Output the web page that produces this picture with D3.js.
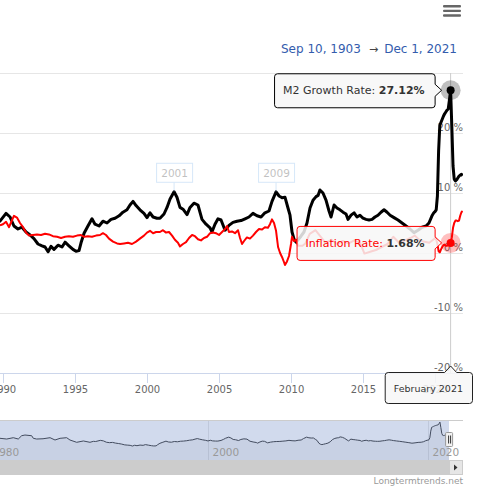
<!DOCTYPE html>
<html><head><meta charset="utf-8">
<script src="https://cdn.jsdelivr.net/npm/d3@7"></script>
<style>
html,body{margin:0;padding:0;background:#fff;overflow:hidden}
svg{display:block;font-family:"DejaVu Sans",sans-serif}
</style>
</head><body>
<svg id="c" width="482" height="492"></svg>
<script>
// ---------- DATA ----------
const m2Years = [1979.0,1979.5,1980.0,1980.5,1981.09,1981.7,1982.3,1982.75,1983.06,1983.36,1983.97,1984.12,1984.42,1985.0,1985.64,1986.09,1986.55,1987.15,1987.45,1988.06,1988.67,1989.27,1989.58,
1989.79,1990.21,1990.49,1990.76,1991.04,1991.32,1991.60,1991.88,1992.15,1992.43,1992.71,1992.92,1993.13,1993.33,1993.54,1993.82,1994.10,1994.31,1994.58,1994.86,1995.07,1995.28,1995.42,1995.63,1995.90,
1996.18,1996.39,1996.67,1996.94,1997.22,1997.50,1997.78,1998.06,1998.33,1998.61,1998.82,1999.03,1999.24,1999.51,1999.79,2000.00,2000.21,2000.42,2000.69,2000.90,2001.18,2001.39,2001.60,2001.88,
2002.08,2002.29,2002.50,2002.78,2002.99,2003.26,2003.54,2003.82,2004.10,2004.38,2004.51,2004.72,2004.93,2005.14,2005.42,2005.69,2005.97,2006.25,2006.53,2006.81,2007.08,2007.36,2007.64,2007.92,
2008.19,2008.47,2008.68,2008.96,2009.17,2009.38,2009.58,2009.79,2009.93,2010.07,2010.21,2010.35,2010.49,2010.69,2010.90,2011.11,2011.32,2011.53,2011.74,2011.88,2012.01,2012.22,2012.43,2012.64,2012.78,
2012.99,2013.19,2013.40,2013.61,2013.82,2013.96,2014.17,2014.38,2014.58,2014.79,2015.00,2015.21,2015.42,2015.63,2015.83,2016.04,2016.25,2016.46,2016.67,2016.88,2017.15,2017.43,2017.71,2017.99,
2018.26,2018.54,2018.82,2019.10,2019.38,2019.58,2019.79,2019.917,
2020.0,2020.083,2020.167,2020.25,2020.333,2020.417,2020.5,2020.583,2020.667,2020.75,2020.833,2020.917,
2021.0,2021.083,2021.167,2021.25,2021.333,2021.417,2021.5,2021.583,2021.667,2021.75,2021.833,2021.917];
const m2Growth = [8.2,8.0,8.5,8.9,8.9,8.1,9.6,8.1,11.8,12.6,11.8,8.9,8.1,8.4,9.6,7.0,8.9,9.6,7.0,4.4,5.9,4.4,5.5,
5.3,6.6,6.0,4.5,4.0,4.3,3.5,3.0,2.4,1.5,1.2,1.0,0.2,1.1,0.6,1.3,1.0,1.8,1.2,0.6,0.3,0.4,1.7,3.3,4.5,
5.7,4.8,4.5,5.3,5.0,5.6,5.8,6.2,6.8,7.2,8.0,8.6,7.9,7.2,6.6,5.9,6.7,6.0,5.8,5.8,6.5,7.6,9.0,10.2,
9.3,7.6,7.3,6.4,7.6,8.3,8.0,5.6,4.8,4.2,3.5,4.8,5.7,5.5,3.8,4.6,5.1,5.3,5.4,5.7,6.0,6.6,6.2,6.0,
6.7,7.0,8.6,10.2,9.5,9.2,9.3,7.5,6.3,3.5,2.3,1.8,2.2,2.8,3.5,5.0,7.5,8.8,9.4,9.6,10.5,10.0,8.8,7.0,6.0,
8.0,7.5,7.2,6.8,6.5,5.6,6.3,6.7,6.0,6.3,5.8,5.6,5.5,5.6,6.0,6.3,6.8,7.2,6.8,6.3,5.9,5.5,5.0,4.5,
4.0,3.4,3.8,4.3,4.5,5.0,6.2,6.7,
6.9,7.2,9.5,17.0,21.3,21.8,22.3,22.8,23.2,23.5,23.8,24.0,
25.5,27.12,21.0,14.5,12.3,12.0,12.2,12.5,12.8,13.0,13.1,12.9];

const inflYears = [1989.79,1990.00,1990.21,1990.42,1990.63,1990.76,1990.97,1991.18,1991.39,1991.60,1991.81,1992.08,1992.36,1992.64,1992.92,1993.19,1993.47,1993.75,1994.03,1994.31,1994.58,1994.86,
1995.14,1995.42,1995.63,1995.90,1996.18,1996.46,1996.74,1996.94,1997.15,1997.36,1997.64,1997.92,1998.13,1998.40,1998.68,1998.96,1999.24,1999.51,1999.79,2000.00,2000.21,2000.42,2000.63,2000.90,
2001.11,2001.32,2001.53,2001.74,2001.94,2002.15,2002.29,2002.50,2002.71,2002.92,2003.13,2003.33,2003.54,2003.75,2003.96,2004.17,2004.38,2004.58,2004.79,2005.00,2005.21,2005.42,2005.56,2005.69,2005.90,
2006.11,2006.32,2006.46,2006.60,2006.74,2006.94,2007.15,2007.36,2007.57,2007.78,2007.99,2008.19,2008.40,2008.54,2008.68,2008.82,2008.96,2009.10,2009.24,2009.38,2009.51,2009.58,2009.72,2009.86,
2010.00,2010.07,2010.21,2010.35,2010.49,2010.80,2011.00,2011.30,2011.70,2012.00,2012.40,2012.80,2013.20,2013.60,2014.00,2014.40,2014.80,2015.10,2015.50,2015.90,2016.30,2016.70,2017.10,2017.50,2017.90,
2018.30,2018.60,2018.90,2019.20,2019.60,2019.917,
2020.0,2020.083,2020.167,2020.25,2020.333,2020.417,2020.5,2020.583,2020.667,2020.75,2020.833,2020.917,
2021.0,2021.083,2021.167,2021.25,2021.333,2021.417,2021.5,2021.583,2021.667,2021.75,2021.833,2021.917];
const inflRate = [4.6,4.8,5.2,4.3,5.5,6.2,5.9,5.0,4.3,3.4,2.9,3.0,3.1,3.0,3.2,3.1,2.8,2.7,2.5,2.7,2.8,2.7,
2.9,3.0,2.7,2.8,2.7,2.9,3.0,3.3,3.0,2.4,1.9,1.6,1.5,1.6,1.7,1.5,1.9,2.4,2.9,3.4,3.7,3.3,3.5,3.5,
3.8,3.4,3.5,2.9,2.2,1.7,1.1,1.5,1.8,2.5,3.0,2.8,2.3,2.1,2.5,2.7,3.3,3.4,3.3,3.0,3.5,4.0,4.5,3.5,3.6,
3.3,3.8,2.5,1.5,2.0,2.6,2.4,2.9,3.5,4.0,3.9,4.3,4.2,4.8,5.6,5.0,3.7,1.0,0.0,-0.7,-1.5,-2.0,-1.4,-0.5,
1.5,2.7,2.0,2.2,1.2,1.2,1.6,3.2,3.8,2.9,1.7,2.2,1.5,2.0,1.6,2.1,1.7,-0.1,0.2,0.5,1.0,1.5,2.7,1.7,2.1,
2.5,2.9,2.2,1.9,1.7,2.3,
2.5,2.3,1.5,0.3,0.1,0.6,1.0,1.3,1.4,1.2,1.2,1.4,
1.4,1.68,2.6,4.2,5.0,5.4,5.4,5.3,5.4,6.2,6.8,7.0];

const xTickYears = [1990,1995,2000,2005,2010,2015,2020];
const yTicks = [-20,-10,0,10,20,30];
const yLabelTicks = [-20,-10,0,10,20];
const navTickYears = [1980,2000,2020];
const flagYears = [2001.88, 2008.96];
const flagTitles = ["2001","2009"];
const hoverYear = 2021.083;
const hoverLabel = "February 2021";
const seriesNames = ["M2 Growth Rate","Inflation Rate"];
const rangeStart = "Sep 10, 1903", rangeEnd = "Dec 1, 2021";
const creditText = "Longtermtrends.net";

// ---------- HELPERS ----------
const toDate = yv => { const yr=Math.floor(yv), s=Date.UTC(yr,0,1), e=Date.UTC(yr+1,0,1); return new Date(s+(yv-yr)*(e-s)); };
const m2 = m2Years.map((t,i)=>({date:toDate(t),v:m2Growth[i]}));
const infl = inflYears.map((t,i)=>({date:toDate(t),v:inflRate[i]}));

const svg = d3.select('#c');
const plotTop=73, plotBottom=373, plotRight=463;
const x = d3.scaleUtc().domain([toDate(1990),toDate(2020)]).range([3,435]);
const y = d3.scaleLinear().domain([-20,30]).range([plotBottom,plotTop]);

const defs = svg.append('defs');
defs.append('clipPath').attr('id','pc').append('rect').attr('x',0).attr('y',plotTop-20).attr('width',plotRight).attr('height',plotBottom-plotTop+20);
defs.append('clipPath').attr('id','nc').append('rect').attr('x',0).attr('y',420).attr('width',449).attr('height',40);

// gridlines
svg.append('g').selectAll('line').data(yTicks).join('line')
  .attr('x1',0).attr('x2',plotRight).attr('y1',d=>Math.round(y(d))+0.5).attr('y2',d=>Math.round(y(d))+0.5)
  .attr('stroke','#e6e6e6').attr('stroke-width',1);

// x axis
const xa = svg.append('g').attr('transform',`translate(0,${plotBottom})`)
  .call(d3.axisBottom(x).tickValues(xTickYears.map(toDate)).tickSize(10).tickSizeOuter(0).tickFormat(d3.utcFormat('%Y')));
xa.select('.domain').remove();
xa.selectAll('.tick line').attr('stroke','#ccd6eb');
xa.selectAll('.tick text').attr('fill','#666').attr('font-size','10px').attr('font-family','DejaVu Sans');
svg.append('line').attr('x1',0).attr('x2',plotRight).attr('y1',plotBottom+0.5).attr('y2',plotBottom+0.5).attr('stroke','#ccd6eb');

// y labels
svg.append('g').selectAll('text').data(yLabelTicks).join('text')
  .attr('x',plotRight).attr('y',d=>y(d)-2.5).attr('text-anchor','end')
  .attr('fill','#666').attr('font-size','10px').text(d=>`${d} %`);

// crosshair
const hx = x(toDate(hoverYear));
svg.append('line').attr('x1',hx).attr('x2',hx).attr('y1',plotTop).attr('y2',plotBottom).attr('stroke','#cccccc');

// series
const line = d3.line().x(d=>x(d.date)).y(d=>y(d.v));
const gp = svg.append('g').attr('clip-path','url(#pc)');
gp.append('path').datum(m2).attr('d',line).attr('fill','none').attr('stroke','#000').attr('stroke-width',3).attr('stroke-linejoin','round');
gp.append('path').datum(infl).attr('d',line).attr('fill','none').attr('stroke','#ff0000').attr('stroke-width',2).attr('stroke-linejoin','round');

// flags (inactive, faded)
const interpM2 = t => { const d=toDate(t); const i=d3.bisector(p=>p.date).left(m2,d); if(i<=0) return m2[0].v; const a=m2[i-1], b=m2[i]||a; const f=(d-a.date)/((b.date-a.date)||1); return a.v+(b.v-a.v)*f; };
const fg = svg.append('g').attr('opacity',0.3);
flagYears.forEach((t,i)=>{
  const fx = x(toDate(t)), ay = y(interpM2(t));
  const bb = ay-10, bt = bb-19, w=36;
  fg.append('line').attr('x1',fx).attr('x2',fx).attr('y1',bb).attr('y2',ay).attr('stroke','#7cb5ec');
  fg.append('rect').attr('x',fx-w/2+0.5).attr('y',bt+0.5).attr('width',w).attr('height',19).attr('fill','#fff').attr('stroke','#7cb5ec');
  fg.append('text').attr('x',fx+0.5).attr('y',bt+14).attr('text-anchor','middle').attr('font-size','10.5px').attr('fill','#333').text(flagTitles[i]);
});

// hover markers
const hi = m2Years.indexOf(hoverYear), hj = inflYears.indexOf(hoverYear);
const m2y = y(m2Growth[hi]), iny = y(inflRate[hj]);
svg.append('circle').attr('cx',hx).attr('cy',m2y).attr('r',10).attr('fill','rgba(0,0,0,0.25)');
svg.append('circle').attr('cx',hx).attr('cy',m2y).attr('r',4).attr('fill','#000');
svg.append('circle').attr('cx',hx).attr('cy',iny).attr('r',10).attr('fill','rgba(255,0,0,0.25)');
svg.append('circle').attr('cx',hx).attr('cy',iny).attr('r',4).attr('fill','#ff0000');

// tooltips
function calloutRight(x0,y0,w,h,tx,ty,r){
  const x1=x0+w,y1=y0+h;
  return `M${x0+r},${y0}H${x1-r}Q${x1},${y0} ${x1},${y0+r}V${ty-6}L${tx},${ty}L${x1},${ty+6}V${y1-r}Q${x1},${y1} ${x1-r},${y1}H${x0+r}Q${x0},${y1} ${x0},${y1-r}V${y0+r}Q${x0},${y0} ${x0+r},${y0}Z`;
}
function calloutTop(x0,y0,w,h,tx,ty,r){
  const x1=x0+w,y1=y0+h;
  return `M${x0+r},${y0}H${tx-6}L${tx},${ty}L${tx+6},${y0}H${x1-r}Q${x1},${y0} ${x1},${y0+r}V${y1-r}Q${x1},${y1} ${x1-r},${y1}H${x0+r}Q${x0},${y1} ${x0},${y1-r}V${y0+r}Q${x0},${y0} ${x0+r},${y0}Z`;
}
function tooltip(py, name, val, color, nameColor){
  const g = svg.append('g');
  const path = g.append('path');
  const t = g.append('text').attr('font-size','11px').attr('fill','#333');
  t.append('tspan').attr('fill',nameColor).text(name+': ');
  t.append('tspan').attr('font-weight','bold').text(val.toFixed(2)+'%');
  const tl = t.node().getComputedTextLength();
  const right = hx-16, w = tl+19, left = right-w, h=34, top = py-17;
  t.attr('x',left+9).attr('y',py+4);
  path.attr('d',calloutRight(left+0.5,top+0.5,w,h,hx-9,py,3)).attr('fill','rgba(247,247,247,0.85)').attr('stroke',color).attr('stroke-width',1);
}
tooltip(m2y, seriesNames[0], m2Growth[hi], '#000', '#333');
tooltip(iny, seriesNames[1], inflRate[hj], '#ff0000', '#ff0000');

// x crosshair label
{
  const g = svg.append('g');
  const path = g.append('path');
  const t = g.append('text').attr('font-size','9.5px').attr('fill','#333').attr('text-anchor','middle').text(hoverLabel);
  const tl = t.node().getComputedTextLength();
  const w = tl+18, h=31, top=372;
  const left = Math.min(hx-w/2, 472-w);
  t.attr('x',left+w/2).attr('y',top+20);
  path.attr('d',calloutTop(left+0.5,top+0.5,w,h,hx,366,3)).attr('fill','rgba(247,247,247,0.85)').attr('stroke','#222');
}

// ---------- NAVIGATOR ----------
const nx = d3.scaleUtc().domain([toDate(1980),toDate(2020)]).range([-12,428]);
const ny = d3.scaleLinear().domain([-15.5,29.5]).range([460,420]);
const ng = svg.append('g');
ng.selectAll('line.g').data(navTickYears).join('line').attr('class','g')
  .attr('x1',d=>Math.round(nx(toDate(d)))+0.5).attr('x2',d=>Math.round(nx(toDate(d)))+0.5).attr('y1',420).attr('y2',460).attr('stroke','#e6e6e6');
const ngc = ng.append('g').attr('clip-path','url(#nc)');
ngc.append('path').datum(m2).attr('d',d3.area().x(d=>nx(d.date)).y0(460).y1(d=>ny(d.v))).attr('fill','rgba(0,0,0,0.05)');
ngc.append('path').datum(m2).attr('d',d3.line().x(d=>nx(d.date)).y(d=>ny(d.v))).attr('fill','none').attr('stroke','#333').attr('stroke-width',1);
ng.append('rect').attr('x',0).attr('y',420).attr('width',449).attr('height',40).attr('fill','rgba(102,133,194,0.3)');
ng.selectAll('text').data(navTickYears).join('text')
  .attr('x',d=>nx(toDate(d))+4.5).attr('y',456).attr('fill','#999').attr('font-size','10.5px').text(d=>d);
ng.append('line').attr('x1',0).attr('x2',463).attr('y1',420.5).attr('y2',420.5).attr('stroke','#cccccc');
// handle
const hdx = nx(toDate(2021.917));
ng.append('rect').attr('x',hdx-3.5).attr('y',432.5).attr('width',7).attr('height',14).attr('rx',1).attr('fill','#f2f2f2').attr('stroke','#999');
[-1,1].forEach(o=>ng.append('line').attr('x1',hdx+o+0.5).attr('x2',hdx+o+0.5).attr('y1',435.5).attr('y2',443.5).attr('stroke','#333'));
// scrollbar
ng.append('rect').attr('x',0).attr('y',460).attr('width',449).attr('height',15).attr('fill','#cccccc');
ng.append('rect').attr('x',449.5).attr('y',460.5).attr('width',13).attr('height',14).attr('fill','#e6e6e6').attr('stroke','#cccccc');
ng.append('path').attr('d','M454,464.5L457.5,467.5L454,470.5Z').attr('fill','#333');

// ---------- TOP UI ----------
[5,9.7,14.3].forEach(yy=>svg.append('rect').attr('x',443).attr('y',yy).attr('width',18).attr('height',2.4).attr('rx',1).attr('fill','#666'));
svg.append('text').attr('x',281).attr('y',53).attr('fill','#335cad').attr('font-size','12px').text(rangeStart);
svg.append('text').attr('x',373.5).attr('y',53).attr('fill','#444').attr('font-size','11px').attr('text-anchor','middle').text('→');
svg.append('text').attr('x',457).attr('y',53).attr('fill','#335cad').attr('font-size','12px').attr('text-anchor','end').text(rangeEnd);

// credits
svg.append('text').attr('x',463).attr('y',484).attr('fill','#999').attr('font-size','9px').attr('text-anchor','end').text(creditText);
</script>
</body></html>
